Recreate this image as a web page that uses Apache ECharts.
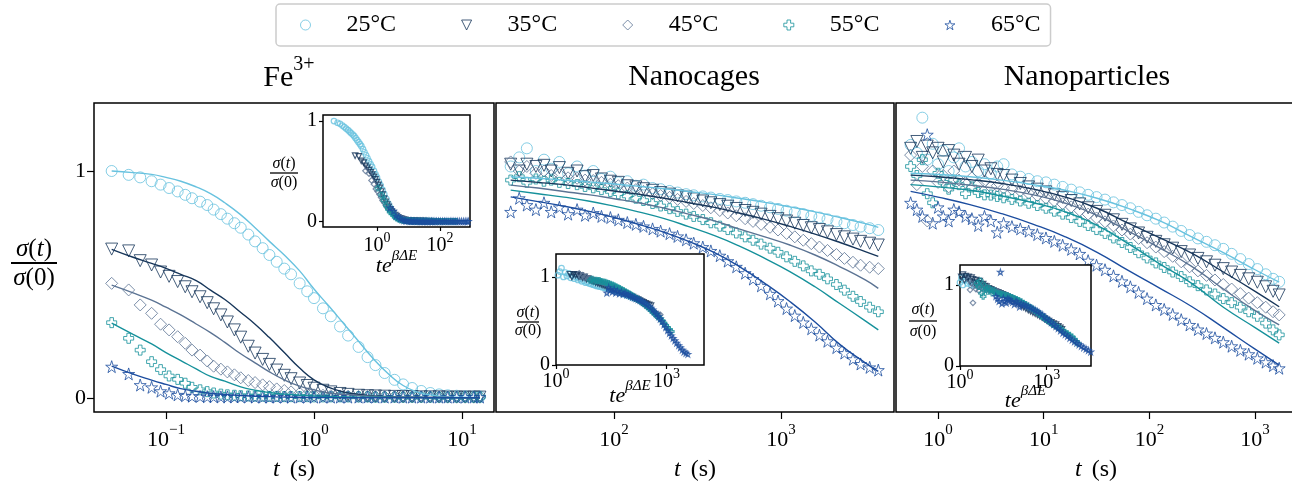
<!DOCTYPE html>
<html><head><meta charset="utf-8">
<script src="https://cdn.jsdelivr.net/npm/echarts@6/dist/echarts.min.js"></script>
<style>html,body{margin:0;padding:0;background:#fff}#c{width:1292px;height:481px}</style>
</head><body><div id="c"></div>
<script>
// ---------- data ----------
const seriesNames = ['25°C', '35°C', '45°C', '55°C', '65°C'];
const panelTitles = ['Nanocages', 'Nanoparticles'];

// Panel 1 (Fe3+)
const t1 = [0.043,0.056,0.067,0.08,0.092,0.105,0.12,0.135,0.15,0.17,0.19,0.21,0.235,0.26,0.29,0.32,0.36,0.4,0.45,0.5,0.56,0.63,0.7,0.8,0.9,1.0,1.15,1.3,1.5,1.7,2.0,2.3,2.6,3.0,3.5,4.0,4.6,5.3,6.1,7.0,8.0,9.2,10.5,12.0,13.2];
const fe25 = [1.0,0.983,0.972,0.955,0.94,0.925,0.91,0.895,0.88,0.865,0.85,0.83,0.81,0.79,0.77,0.75,0.72,0.69,0.66,0.63,0.6,0.57,0.545,0.505,0.47,0.44,0.395,0.36,0.315,0.275,0.225,0.18,0.145,0.11,0.08,0.06,0.044,0.031,0.022,0.016,0.012,0.01,0.008,0.007,0.006];
const fe35 = [0.656,0.648,0.605,0.586,0.555,0.536,0.513,0.49,0.468,0.446,0.42,0.393,0.366,0.335,0.3,0.268,0.228,0.198,0.17,0.148,0.123,0.1,0.085,0.066,0.055,0.043,0.034,0.027,0.02,0.016,0.012,0.01,0.009,0.008,0.007,0.006,0.006,0.005,0.005,0.005,0.004,0.004,0.004,0.004,0.004];
const fe45 = [0.505,0.476,0.41,0.373,0.325,0.3,0.27,0.241,0.211,0.189,0.163,0.14,0.127,0.115,0.102,0.089,0.077,0.068,0.058,0.05,0.04,0.033,0.027,0.021,0.017,0.014,0.012,0.01,0.009,0.008,0.007,0.007,0.006,0.006,0.006,0.005,0.005,0.005,0.005,0.004,0.004,0.004,0.004,0.004,0.004];
const fe55 = [0.332,0.263,0.211,0.16,0.125,0.097,0.082,0.065,0.047,0.036,0.028,0.022,0.017,0.014,0.012,0.01,0.009,0.008,0.008,0.007,0.007,0.006,0.006,0.006,0.006,0.005,0.005,0.005,0.005,0.005,0.005,0.005,0.004,0.004,0.004,0.004,0.004,0.004,0.004,0.004,0.004,0.004,0.004,0.004,0.004];
const fe65 = [0.138,0.106,0.057,0.047,0.03,0.021,0.014,0.01,0.008,0.007,0.006,0.006,0.005,0.005,0.005,0.005,0.005,0.004,0.004,0.004,0.004,0.004,0.004,0.004,0.004,0.004,0.004,0.004,0.004,0.004,0.004,0.004,0.004,0.004,0.004,0.004,0.004,0.004,0.004,0.004,0.004,0.004,0.004,0.004,0.004];
const tFit1 = [0.043,0.06,0.08,0.1,0.126,0.16,0.2,0.25,0.316,0.4,0.5,0.63,0.8,1.0,1.26,1.6,2.0,2.5,3.2,4.0,5.0,6.3,8.0,10,13.2];
const feFit25 = [1.0,0.993,0.985,0.972,0.955,0.93,0.9,0.86,0.81,0.75,0.69,0.63,0.56,0.48,0.405,0.325,0.25,0.175,0.105,0.055,0.026,0.012,0.005,0.003,0.001];
const feFit35 = [0.655,0.62,0.593,0.571,0.545,0.517,0.475,0.434,0.38,0.325,0.266,0.2,0.132,0.08,0.047,0.026,0.016,0.009,0.006,0.004,0.003,0.002,0.002,0.001,0.001];
const feFit45 = [0.497,0.463,0.431,0.4,0.366,0.326,0.288,0.245,0.197,0.155,0.115,0.08,0.052,0.036,0.022,0.016,0.011,0.008,0.005,0.004,0.003,0.002,0.002,0.001,0.001];
const feFit55 = [0.33,0.28,0.238,0.2,0.165,0.128,0.095,0.074,0.05,0.034,0.024,0.017,0.012,0.009,0.007,0.005,0.004,0.003,0.003,0.002,0.002,0.001,0.001,0.001,0.001];
const feFit65 = [0.14,0.105,0.079,0.06,0.041,0.03,0.021,0.016,0.011,0.008,0.006,0.004,0.003,0.002,0.002,0.001,0.001,0.001,0.001,0.001,0.001,0.001,0.001,0.001,0.001];

// Panel 2 (Nanocages)
const t2 = [24,27,30,34,38,42,47,53,60,67,75,84,95,106,120,135,150,170,190,215,240,270,300,340,380,430,480,540,610,680,760,860,960,1080,1210,1360,1520,1700,1900,2150,2400,2700,3000,3400,3830];
const nc25 = [1.02,1.06,1.10,1.0,1.05,1.01,1.04,0.99,1.02,0.98,1.0,0.965,0.975,0.95,0.955,0.935,0.94,0.925,0.92,0.912,0.905,0.898,0.893,0.888,0.883,0.877,0.872,0.866,0.86,0.854,0.847,0.84,0.833,0.825,0.818,0.81,0.802,0.795,0.787,0.778,0.77,0.762,0.755,0.748,0.74];
const nc35 = [1.03,1.0,1.03,1.02,1.025,1.0,1.015,0.99,1.0,0.975,0.98,0.965,0.955,0.95,0.935,0.93,0.922,0.915,0.905,0.898,0.89,0.885,0.877,0.868,0.86,0.852,0.845,0.835,0.826,0.818,0.81,0.8,0.79,0.78,0.77,0.76,0.75,0.742,0.732,0.72,0.71,0.7,0.69,0.682,0.674];
const nc45 = [1.04,1.0,1.02,0.99,1.0,0.98,0.985,0.97,0.968,0.96,0.958,0.95,0.942,0.935,0.925,0.918,0.91,0.9,0.892,0.884,0.875,0.866,0.857,0.848,0.838,0.826,0.815,0.803,0.79,0.778,0.765,0.752,0.74,0.725,0.71,0.695,0.68,0.665,0.65,0.632,0.615,0.598,0.585,0.576,0.57];
const nc55 = [0.96,0.975,0.95,0.965,0.955,0.96,0.95,0.945,0.94,0.932,0.926,0.918,0.91,0.9,0.89,0.88,0.87,0.857,0.846,0.834,0.822,0.81,0.8,0.786,0.772,0.757,0.742,0.727,0.71,0.695,0.678,0.66,0.642,0.622,0.602,0.582,0.56,0.545,0.525,0.5,0.475,0.448,0.425,0.4,0.38];
const nc65 = [0.82,0.88,0.85,0.83,0.86,0.82,0.84,0.81,0.83,0.805,0.815,0.8,0.795,0.785,0.773,0.765,0.756,0.745,0.735,0.724,0.712,0.697,0.682,0.665,0.648,0.627,0.603,0.578,0.55,0.524,0.494,0.459,0.427,0.394,0.363,0.333,0.305,0.277,0.25,0.222,0.198,0.171,0.15,0.135,0.123];
const tFit2 = [24,35,50,70,100,140,200,280,400,560,800,1130,1600,2260,3200,3830];
const ncFit25 = [0.975,0.968,0.96,0.952,0.943,0.933,0.922,0.91,0.896,0.88,0.862,0.842,0.82,0.795,0.768,0.752];
const ncFit35 = [0.96,0.95,0.94,0.927,0.912,0.898,0.88,0.86,0.84,0.815,0.787,0.756,0.722,0.685,0.645,0.624];
const ncFit45 = [0.938,0.925,0.91,0.896,0.878,0.86,0.836,0.81,0.78,0.745,0.71,0.674,0.63,0.578,0.52,0.483];
const ncFit55 = [0.916,0.9,0.885,0.868,0.845,0.82,0.79,0.755,0.715,0.67,0.615,0.557,0.49,0.415,0.34,0.3];
const ncFit65 = [0.886,0.865,0.845,0.823,0.795,0.765,0.73,0.69,0.64,0.58,0.505,0.425,0.335,0.235,0.155,0.117];

// Panel 3 (Nanoparticles)
const t3 = [0.55,0.63,0.71,0.79,0.89,1.0,1.12,1.26,1.41,1.58,1.82,2.09,2.4,2.75,3.16,3.63,4.17,5.0,6.0,7.2,8.7,10.5,12.6,15.1,18.2,21.9,26.3,31.6,38,45.7,55,66,79,95,115,138,166,200,240,288,347,417,500,600,725,870,1050,1260,1480,1690];
const np25 = [1.115,1.08,1.235,1.05,1.12,1.03,1.09,1.0,1.06,1.1,1.02,1.04,1.0,1.03,0.99,1.02,1.03,0.985,0.975,0.965,0.955,0.95,0.94,0.93,0.918,0.906,0.895,0.885,0.874,0.862,0.85,0.836,0.82,0.805,0.79,0.773,0.755,0.736,0.718,0.703,0.688,0.673,0.657,0.635,0.612,0.59,0.568,0.545,0.525,0.512];
const np35 = [1.1,1.13,1.06,1.11,1.08,1.1,1.04,1.09,1.07,1.03,1.06,1.02,1.048,1.0,1.01,0.985,0.98,0.96,0.945,0.93,0.92,0.908,0.896,0.884,0.87,0.855,0.838,0.822,0.805,0.785,0.765,0.745,0.727,0.708,0.69,0.675,0.66,0.645,0.63,0.615,0.6,0.585,0.57,0.555,0.54,0.525,0.51,0.49,0.47,0.454];
const np45 = [1.07,0.94,1.02,0.78,1.0,0.95,0.98,0.93,1.0,0.96,0.95,0.97,0.94,0.955,0.93,0.935,0.925,0.92,0.912,0.902,0.892,0.88,0.868,0.856,0.842,0.826,0.81,0.793,0.776,0.758,0.74,0.722,0.703,0.684,0.665,0.645,0.624,0.6,0.578,0.56,0.54,0.52,0.5,0.48,0.46,0.44,0.42,0.4,0.38,0.366];
const np55 = [1.02,0.98,1.05,0.9,0.86,0.99,0.95,0.92,0.96,0.94,0.9,0.93,0.905,0.895,0.894,0.888,0.882,0.875,0.868,0.858,0.848,0.836,0.823,0.81,0.795,0.778,0.76,0.742,0.725,0.705,0.685,0.663,0.64,0.617,0.595,0.575,0.555,0.535,0.512,0.495,0.476,0.458,0.438,0.42,0.4,0.38,0.36,0.33,0.3,0.278];
const np65 = [0.86,0.83,0.8,1.16,0.77,0.84,0.8,0.78,0.83,0.82,0.8,0.79,0.76,0.8,0.78,0.73,0.77,0.755,0.745,0.735,0.72,0.705,0.69,0.673,0.655,0.635,0.605,0.585,0.565,0.538,0.514,0.49,0.465,0.438,0.41,0.39,0.368,0.345,0.322,0.302,0.284,0.265,0.246,0.228,0.21,0.193,0.175,0.158,0.143,0.131];
const tFit3 = [0.55,1,2,4,8,16,32,63,126,251,501,1000,1690];
const npFit25 = [0.99,0.985,0.975,0.96,0.94,0.915,0.88,0.835,0.78,0.71,0.64,0.565,0.51];
const npFit35 = [0.982,0.975,0.962,0.945,0.92,0.885,0.836,0.77,0.705,0.638,0.555,0.47,0.402];
const npFit45 = [0.96,0.952,0.938,0.92,0.895,0.858,0.805,0.735,0.66,0.58,0.48,0.385,0.322];
const npFit55 = [0.94,0.93,0.915,0.89,0.86,0.82,0.76,0.68,0.59,0.505,0.4,0.31,0.242];
const npFit65 = [0.91,0.885,0.852,0.812,0.765,0.71,0.642,0.562,0.483,0.403,0.31,0.215,0.145];

const insetShiftFe = [1, 4.7, 10, 25, 60];
const insetShiftNc = [0.047, 0.1, 0.178, 0.355, 1];
const insetShiftNp = [1, 2, 3.55, 7.1, 31.6];

// Tick labels
const xTicksFe = [0.1, 1, 10];
const xTicksNc = [100, 1000];
const xTicksNp = [1, 10, 100, 1000];
const xTicksInsetFe = [1, 100];
const xTicksInsetNc = [1, 1000];
const xTicksInsetNp = [1, 1000];
const yTicks = [0, 1];

// ---------- styling ----------
const colors = ['#68c2df', '#17365a', '#5b7393', '#16919b', '#1c4d9f'];
const symbols = ['circle', 'triangle', 'diamond',
  'path://M3.2,0H6.8V3.2H10V6.8H6.8V10H3.2V6.8H0V3.2H3.2Z',
  'path://M50,0L61.2,34.5L97.6,34.5L68.2,55.9L79.4,90.5L50,69.1L20.6,90.5L31.8,55.9L2.4,34.5L38.8,34.5Z'];
const legendIcons = ['circle', 'path://M0,0L10,0L5,10Z', 'diamond', symbols[3], symbols[4]];
const rotations = [0, 180, 0, 0, 0];
const mainSizes = [11, 12, 12, 10, 12];
const serif = '"Liberation Serif", "Times New Roman", serif';

const panels = [
  {t: t1, vals: [fe25, fe35, fe45, fe55, fe65], tf: tFit1, fits: [feFit25, feFit35, feFit45, feFit55, feFit65], shift: insetShiftFe},
  {t: t2, vals: [nc25, nc35, nc45, nc55, nc65], tf: tFit2, fits: [ncFit25, ncFit35, ncFit45, ncFit55, ncFit65], shift: insetShiftNc},
  {t: t3, vals: [np25, np35, np45, np55, np65], tf: tFit3, fits: [npFit25, npFit35, npFit45, npFit55, npFit65], shift: insetShiftNp}
];

function pairs(ts, vs, k) { return ts.map((t, i) => [t * (k || 1), vs[i]]); }
function powLabel(v) {
  const e = Math.round(Math.log10(v));
  return '{b|10}{s|' + (e < 0 ? '\u2212' + (-e) : e) + '}';
}
function richPow(base, sup, pad) {
  return {
    b: {fontSize: base, fontFamily: serif, color: '#000', padding: [pad, 0, 0, 0]},
    s: {fontSize: sup, fontFamily: serif, color: '#000', verticalAlign: 'top'}
  };
}

const grids = [
  {left: 94, top: 103, width: 400, height: 309},
  {left: 496, top: 103, width: 398, height: 309},
  {left: 896, top: 103, width: 400, height: 309},
  {left: 323, top: 115, width: 147, height: 112, z: 5, backgroundColor: '#fff'},
  {left: 556, top: 254, width: 148, height: 111, z: 5, backgroundColor: '#fff'},
  {left: 960, top: 265, width: 131, height: 101, z: 5, backgroundColor: '#fff'}
].map(g => Object.assign({show: true, borderColor: '#000', borderWidth: 1.5, backgroundColor: 'transparent',
  containLabel: false, outerBoundsMode: 'none'}, g));

const xRanges = [[0.03266, 16.44], [19.6, 4757], [0.4, 2438], [0.0193, 896], [1, 10500], [1, 34000]];
const xTicks = [xTicksFe, xTicksNc, xTicksNp, xTicksInsetFe, xTicksInsetNc, xTicksInsetNp];
const yRanges = [[-0.0617, 1.2996], [-0.0617, 1.2996], [-0.0617, 1.2996], [-0.053, 1.06], [0, 1.26], [0, 1.247]];

const xAxes = xRanges.map((r, i) => {
  const inset = i >= 3;
  const ax = {
    type: 'log', logBase: 10, gridIndex: i, min: r[0], max: r[1], z: inset ? 6 : 0,
    axisLine: {show: false, onZero: false},
    splitLine: {show: false}, minorTick: {show: false}, minorSplitLine: {show: false},
    axisTick: {show: true, inside: false, length: inset ? 4 : 7, customValues: xTicks[i], lineStyle: {color: '#000', width: 1.2}},
    axisLabel: {show: true, customValues: xTicks[i], formatter: powLabel, margin: inset ? [4, 2, 2][i - 3] : 11,
      rich: inset ? richPow(20, 14, 5) : richPow(22, 15, 6)},
    nameMoveOverlap: false
  };
  if (!inset) {
    ax.name = '{i|t} (s)';
    ax.nameLocation = 'middle';
    ax.nameGap = 46;
    ax.nameTextStyle = {fontSize: 24, fontFamily: serif, color: '#000',
      rich: {i: {fontSize: 24, fontFamily: serif, fontStyle: 'italic', color: '#000', padding: [0, 4, 0, 0]}}};
  } else {
    ax.name = '{i|te}{s|\u03b2\u0394E}';
    ax.nameLocation = 'middle';
    ax.nameGap = [22, 14, 18][i - 3];
    ax.nameTextStyle = {fontSize: 22, fontFamily: serif, color: '#000',
      rich: {i: {fontSize: 22, fontFamily: serif, fontStyle: 'italic', color: '#000', padding: [6, 0, 0, 0]},
             s: {fontSize: 15, fontFamily: serif, fontStyle: 'italic', color: '#000', verticalAlign: 'top'}}};
  }
  return ax;
});

const yAxes = yRanges.map((r, i) => {
  const inset = i >= 3;
  const showTicks = (i === 0 || inset);
  return {
    type: 'value', gridIndex: i, min: r[0], max: r[1], z: inset ? 6 : 0,
    axisLine: {show: false}, splitLine: {show: false},
    axisTick: {show: showTicks, inside: false, length: inset ? 4 : 7, customValues: yTicks, lineStyle: {color: '#000', width: 1.2}},
    axisLabel: {show: showTicks, customValues: yTicks, fontSize: inset ? 20 : 22, fontFamily: serif, color: '#000', margin: inset ? 6 : 8}
  };
});

const series = [];
panels.forEach((p, pi) => {
  p.vals.forEach((v, si) => {
    series.push({
      type: 'scatter', name: seriesNames[si], xAxisIndex: pi, yAxisIndex: pi,
      data: pairs(p.t, v), symbol: symbols[si], symbolRotate: rotations[si], symbolSize: mainSizes[si],
      itemStyle: {color: 'rgba(255,255,255,0)', borderColor: colors[si], borderWidth: 1},
      z: 2, silent: true, clip: true
    });
  });
  p.fits.forEach((v, si) => {
    series.push({
      type: 'line', name: 'fit ' + seriesNames[si], xAxisIndex: pi, yAxisIndex: pi,
      data: pairs(p.tf, v), showSymbol: false, symbol: 'none', smooth: true,
      lineStyle: {color: colors[si], width: 1.4}, z: 3, silent: true, clip: true
    });
  });
  p.vals.forEach((v, si) => {
    series.push({
      type: 'scatter', name: seriesNames[si], xAxisIndex: 3 + pi, yAxisIndex: 3 + pi,
      data: pairs(p.t, v, p.shift[si]), symbol: symbols[si], symbolRotate: rotations[si], symbolSize: 5.5,
      itemStyle: {color: 'rgba(255,255,255,0)', borderColor: colors[si], borderWidth: 1.2},
      z: 7, silent: true, clip: true
    });
  });
});

function frac(cx, yNum, yLine, yDen, x1, x2, fs) {
  const rich = {
    i: {fontSize: fs, fontFamily: serif, fontStyle: 'italic', fill: '#000'},
    n: {fontSize: fs, fontFamily: serif, fill: '#000'}
  };
  return [
    {type: 'text', x: cx, y: yNum, z: 100, silent: true,
      style: {text: '{i|\u03c3}{n|(}{i|t}{n|)}', rich: rich, align: 'center', verticalAlign: 'middle', fill: '#000'}},
    {type: 'line', z: 100, silent: true, shape: {x1: x1, y1: yLine, x2: x2, y2: yLine}, style: {stroke: '#000', lineWidth: fs > 20 ? 1.8 : 1.3}},
    {type: 'text', x: cx, y: yDen, z: 100, silent: true,
      style: {text: '{i|\u03c3}{n|(0)}', rich: rich, align: 'center', verticalAlign: 'middle', fill: '#000'}}
  ];
}

const graphics = [
  {type: 'text', x: 289, y: 55, z: 100, silent: true,
    style: {text: '{b|Fe}{s|3+}', align: 'center', verticalAlign: 'top', fill: '#000',
      rich: {b: {fontSize: 30, fontFamily: serif, fill: '#000', padding: [8, 0, 0, 0]},
             s: {fontSize: 20, fontFamily: serif, fill: '#000', verticalAlign: 'top'}}}},
  {type: 'text', x: 694, y: 77, z: 100, silent: true,
    style: {text: panelTitles[0], font: '30px ' + serif, fill: '#000', align: 'center', verticalAlign: 'middle'}},
  {type: 'text', x: 1087, y: 77, z: 100, silent: true,
    style: {text: panelTitles[1], font: '30px ' + serif, fill: '#000', align: 'center', verticalAlign: 'middle'}}
].concat(
  frac(34, 249, 263, 278, 11, 57, 25),
  frac(284, 164, 173, 182.5, 270, 298, 16),
  frac(528, 313, 322, 331, 517, 539, 16),
  frac(923, 310, 321, 332, 909, 937, 16)
);

const option = {
  animation: false,
  backgroundColor: '#fff',
  legend: {
    data: seriesNames.map((n, i) => ({name: n, icon: legendIcons[i]})),
    left: 276, top: 4, padding: [9, 10, 9, 24], itemGap: 65,
    itemWidth: 10, itemHeight: 10, borderColor: '#cccccc', borderWidth: 1.5, borderRadius: 4,
    backgroundColor: '#fff', selectedMode: false,
    itemStyle: {color: 'rgba(255,255,255,0)', borderWidth: 1},
    formatter: n => '{g|}' + n,
    textStyle: {fontSize: 24, fontFamily: serif, color: '#000', rich: {g: {width: 31}}}
  },
  grid: grids,
  xAxis: xAxes,
  yAxis: yAxes,
  series: series,
  graphic: graphics
};

const chart = echarts.init(document.getElementById('c'), null, {renderer: 'canvas', width: 1292, height: 481});
chart.setOption(option);
</script>
</body></html>
